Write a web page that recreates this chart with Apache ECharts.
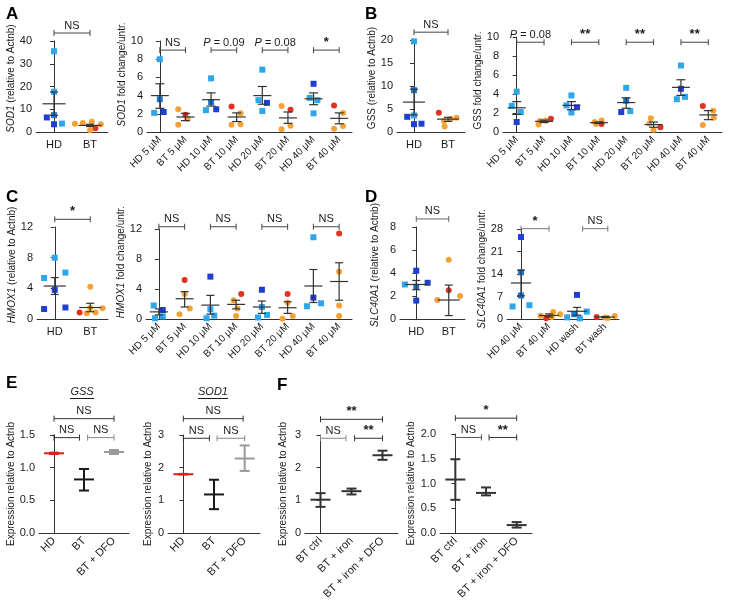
<!DOCTYPE html>
<html><head><meta charset="utf-8">
<script src="https://cdn.jsdelivr.net/npm/echarts@6/dist/echarts.min.js"></script>
<style>html,body{margin:0;padding:0;background:#fff}#c{width:739px;height:610px}</style>
</head><body><div id="c"></div>
<script>
// ---------- categories ----------
const catsHDBT = ['HD', 'BT'];
const catsDose = ['HD 5 μM','BT 5 μM','HD 10 μM','BT 10 μM','HD 20 μM','BT 20 μM','HD 40 μM','BT 40 μM'];
const catsWash = ['HD 40 μM','BT 40 μM','HD wash','BT wash'];
const catsDFO = ['HD', 'BT', 'BT + DFO'];
const catsIron = ['BT ctrl', 'BT + iron', 'BT + iron + DFO'];

// ---------- y axis ranges [min, max, interval] ----------
const yA1 = [0, 40, 10], yA2 = [0, 10, 2], yB1 = [0, 20, 5], yB2 = [0, 10, 2];
const yC1 = [0, 12, 4], yC2 = [0, 12, 4], yD1 = [0, 8, 2], yD2 = [0, 28, 7];
const yE1 = [0, 1.5, 0.5], yE2 = [0, 3, 1], yF1 = [0, 3, 1], yF2 = [0, 2, 0.5];

// ---------- points: [category index, jitter, value, colour key] ----------
const pointsA1 = [
  [0,0,35.5,'L'],[0,0,17.7,'L'],[0,0,7.4,'M'],[0,-0.2,6.4,'D'],[0,0,3.4,'D'],[0,0.22,3.7,'L'],
  [1,-0.42,3.6,'O'],[1,-0.2,4.0,'O'],[1,0.05,4.5,'O'],[1,0.3,3.4,'O'],[1,0.15,1.6,'R'],[1,0.0,0.8,'O']
];
const pointsA2 = [
  [0,0,8.0,'L'],[0,0,3.6,'M'],[0,-0.22,2.1,'L'],[0,0.15,2.2,'D'],
  [1,-0.28,2.5,'O'],[1,0,1.9,'R'],[1,0.08,1.45,'O'],[1,-0.28,0.8,'O'],
  [2,0,5.9,'L'],[2,0,3.3,'M'],[2,-0.2,2.4,'L'],[2,0.2,2.5,'D'],
  [3,-0.2,2.8,'R'],[3,0.15,2.05,'O'],[3,-0.2,0.8,'O'],[3,0.15,0.85,'O'],
  [4,0,6.85,'L'],[4,-0.15,3.5,'L'],[4,0.18,3.2,'D'],[4,0,2.3,'L'],
  [5,-0.25,2.85,'O'],[5,0.1,2.45,'R'],[5,0.1,0.7,'O'],[5,-0.25,0.3,'O'],
  [6,0,5.3,'D'],[6,-0.15,3.75,'L'],[6,0.15,3.5,'L'],[6,0,2.05,'L'],
  [7,-0.2,2.9,'R'],[7,0.15,2.1,'O'],[7,0.15,0.65,'O'],[7,-0.2,0.35,'O']
];
const pointsB1 = [
  [0,0,19.7,'L'],[0,0,9.1,'M'],[0,0,3.6,'L'],[0,-0.2,3.3,'D'],[0,0,1.7,'D'],[0,0.22,1.8,'D'],
  [1,-0.27,4.2,'R'],[1,0.25,3.1,'O'],[1,0.08,2.8,'O'],[1,-0.12,2.4,'O'],[1,-0.1,1.2,'O']
];
const pointsB2 = [
  [0,0,4.25,'L'],[0,-0.18,2.75,'L'],[0,0.15,2.1,'L'],[0,0,1.05,'D'],
  [1,0.25,1.4,'R'],[1,0.05,1.2,'O'],[1,-0.15,1.15,'O'],[1,-0.2,0.8,'O'],
  [2,0,3.85,'L'],[2,-0.18,2.8,'L'],[2,0.2,2.6,'D'],[2,0,2.05,'L'],
  [3,0.1,1.2,'O'],[3,-0.15,1.05,'O'],[3,0.1,0.85,'R'],[3,-0.1,0.85,'O'],
  [4,0,4.65,'L'],[4,0,3.3,'M'],[4,-0.18,2.1,'D'],[4,0.15,2.2,'L'],
  [5,-0.1,1.45,'O'],[5,-0.15,0.9,'O'],[5,0.25,0.5,'R'],[5,0,0.25,'O'],
  [6,0,7.0,'L'],[6,0,4.55,'D'],[6,-0.15,3.45,'L'],[6,0.15,3.7,'L'],
  [7,-0.2,2.75,'R'],[7,0.18,2.25,'O'],[7,0.2,1.5,'O'],[7,-0.2,0.75,'O']
];
const pointsC1 = [
  [0,0,8.0,'L'],[0,0.3,6.05,'L'],[0,-0.3,5.35,'L'],[0,0,3.8,'D'],[0,-0.3,1.3,'D'],[0,0.3,1.5,'D'],
  [1,0,4.2,'O'],[1,0,1.45,'O'],[1,-0.3,0.85,'R'],[1,-0.1,0.75,'O'],[1,0.15,0.85,'O'],[1,0.35,1.4,'O']
];
const pointsC2 = [
  [0,-0.2,1.8,'L'],[0,0.15,1.2,'D'],[0,-0.15,0.1,'L'],[0,0.15,0.35,'L'],
  [1,0,5.2,'R'],[1,0,3.35,'O'],[1,0.2,1.4,'O'],[1,-0.2,0.65,'O'],
  [2,0,5.65,'D'],[2,0,1.3,'L'],[2,-0.15,0.1,'L'],[2,0.15,0.45,'L'],
  [3,0.2,3.35,'R'],[3,-0.1,2.5,'O'],[3,0.05,1.4,'O'],[3,0,0.4,'O'],
  [4,0,3.9,'D'],[4,0,1.6,'L'],[4,-0.15,0.2,'L'],[4,0.2,0.55,'L'],
  [5,0,3.35,'R'],[5,0,2.2,'O'],[5,0.2,0.4,'O'],[5,-0.2,0.05,'O'],
  [6,0,10.9,'L'],[6,0,2.85,'D'],[6,0.3,2.1,'L'],[6,-0.25,1.7,'L'],
  [7,0,11.4,'R'],[7,0,6.3,'O'],[7,0,1.8,'O'],[7,0,0.4,'O']
];
const pointsD1 = [
  [0,0,4.2,'D'],[0,-0.35,3.0,'L'],[0,0,2.8,'M'],[0,0.35,3.15,'D'],[0,0,1.6,'D'],
  [1,0,5.15,'O'],[1,0,2.5,'R'],[1,0.35,2.0,'O'],[1,-0.35,1.65,'O']
];
const pointsD2 = [
  [0,0,25.5,'D'],[0,0,14.5,'M'],[0,0,7.3,'M'],[0,-0.3,3.9,'L'],[0,0.3,4.3,'L'],
  [1,0.15,2.2,'O'],[1,0.4,1.5,'O'],[1,-0.3,1.0,'O'],[1,-0.1,0.2,'R'],[1,0.1,0.6,'O'],
  [2,0,7.5,'D'],[2,0.35,2.3,'L'],[2,-0.1,1.5,'M'],[2,-0.35,0.5,'L'],[2,0.1,0.2,'L'],
  [3,-0.3,0.6,'R'],[3,0,0.5,'O'],[3,0.35,0.9,'O'],[3,0.1,0.3,'O']
];

// ---------- mean and error bars: [category index, mean, low, high] ----------
const statsA1 = [[0,12.4,7.3,17.6],[1,2.9,2.4,3.4]];
const statsA2 = [[0,4.0,2.6,5.3],[1,1.65,1.25,2.05],[2,3.55,2.85,4.3],[3,1.65,1.15,2.1],[4,4.0,3.05,5.0],[5,1.55,0.95,2.2],[6,3.65,3.0,4.3],[7,1.5,0.9,2.1]];
const statsB1 = [[0,6.5,3.7,9.3],[1,2.8,2.3,3.2]];
const statsB2 = [[0,2.55,1.85,3.2],[1,1.12,1.0,1.25],[2,2.8,2.35,3.2],[3,0.98,0.9,1.05],[4,3.1,2.5,3.6],[5,0.78,0.5,1.05],[6,4.7,3.85,5.5],[7,1.8,1.3,2.25]];
const statsC1 = [[0,4.3,3.2,5.4],[1,1.5,0.95,2.05]];
const statsC2 = [[0,0.95,0.55,1.35],[1,2.7,1.6,3.65],[2,1.85,0.65,3.15],[3,1.95,1.35,2.5],[4,1.6,0.75,2.4],[5,1.5,0.75,2.3],[6,4.4,2.2,6.6],[7,5.0,2.5,7.5]];
const statsD1 = [[0,3.0,2.55,3.35],[1,1.65,0.3,2.95]];
const statsD2 = [[0,11.2,7.2,15.2],[1,1.1,0.6,1.6],[2,2.4,1.2,3.6],[3,0.6,0.45,0.75]];
const statsE1 = [[0,1.22,1.21,1.23],[1,0.82,0.65,0.98],[2,1.24,1.21,1.27]];
const statsE2 = [[0,1.8,1.79,1.81],[1,1.18,0.73,1.63],[2,2.28,1.9,2.68]];
const statsF1 = [[0,1.02,0.8,1.22],[1,1.28,1.18,1.36],[2,2.38,2.24,2.52]];
const statsF2 = [[0,1.08,0.67,1.49],[1,0.81,0.76,0.92],[2,0.16,0.11,0.22]];

// ---------- significance brackets: [from, to, level, label] ----------
const bracketsA1 = [[0,1,43.5,'NS']];
const bracketsA2 = [[0,1,9.0,'NS'],[2,3,9.0,'{i|P} = 0.09'],[4,5,9.0,'{i|P} = 0.08'],[6,7,9.0,'*']];
const bracketsB1 = [[0,1,21.7,'NS']];
const bracketsB2 = [[0,1,9.45,'{i|P} = 0.08'],[2,3,9.45,'**'],[4,5,9.45,'**'],[6,7,9.45,'**']];
const bracketsC1 = [[0,1,13.0,'*']];
const bracketsC2 = [[0,1,12.3,'NS'],[2,3,12.3,'NS'],[4,5,12.3,'NS'],[6,7,12.3,'NS']];
const bracketsD1 = [[0,1,8.7,'NS']];
const bracketsD2 = [[0,1,28.1,'*'],[2.2,3.1,28.1,'NS']];
const bracketsE1 = [[0,2,1.75,'NS'],[0,0.85,1.46,'NS'],[1.12,2,1.46,'NS']];
const bracketsE2 = [[0,1.95,3.5,'NS'],[0,0.85,2.9,'NS'],[1.1,2,2.9,'NS']];
const bracketsF1 = [[0,2,3.48,'**'],[0,0.82,2.9,'NS'],[1.1,2,2.9,'**']];
const bracketsF2 = [[0,2,2.32,'*'],[0,0.85,1.93,'NS'],[1.1,2,1.93,'**']];

// ---------- styling ----------
const FAM = '"Liberation Sans", Arial, Helvetica, sans-serif';
const COLORS = {L:'#2ea6ea', M:'#1b78d6', D:'#1f3fd0', O:'#f4a236', R:'#e3321f'};
const colE = ['#e0201b', '#1a1a1a', '#9a9a9a'];
const colF = ['#333', '#333', '#333'];

const panels = [
  {grid:[36,41,72,91],  cats:catsHDBT, rot:0,  xfs:11, y:yA1, pts:pointsA1, stats:statsA1, br:bracketsA1, name:'{i|SOD1} (relative to Actnb)', gap:19, shift:16, mh:11.5, ch:4, lw:1.2},
  {grid:[147,41,205,91],cats:catsDose, rot:45, xfs:10, y:yA2, pts:pointsA2, stats:statsA2, br:bracketsA2, name:'{i|SOD1} fold change/untr.', gap:15, shift:24, mh:9, ch:4.5, lw:1.2},
  {grid:[397,40,68,92], cats:catsHDBT, rot:0,  xfs:11, y:yB1, pts:pointsB1, stats:statsB1, br:bracketsB1, name:'GSS (relative to Actnb)', gap:17, shift:16, mh:11, ch:4, lw:1.2},
  {grid:[503,37,219,95],cats:catsDose, rot:45, xfs:10, y:yB2, pts:pointsB2, stats:statsB2, br:bracketsB2, name:'GSS fold change/untr.', gap:13, shift:8, mh:9, ch:4.5, lw:1.2},
  {grid:[37,227,71,92], cats:catsHDBT, rot:0,  xfs:11, y:yC1, pts:pointsC1, stats:statsC1, br:bracketsC1, name:'{i|HMOX1} (relative to Actnb)', gap:20, shift:16, mh:11, ch:4, lw:1.2},
  {grid:[146,229,206,90],cats:catsDose,rot:45, xfs:10, y:yC2, pts:pointsC2, stats:statsC2, br:bracketsC2, name:'{i|HMOX1} fold change/untr.', gap:13, shift:24, mh:9, ch:4, lw:1.2},
  {grid:[400,227,65,92], cats:catsHDBT,rot:0,  xfs:11, y:yD1, pts:pointsD1, stats:statsD1, br:bracketsD1, name:'{i|SLC40A1} (relative to Actnb)', gap:20, shift:16, mh:11, ch:4, lw:1.2, brc:'#666'},
  {grid:[507,229,112,90],cats:catsWash,rot:45, xfs:10, y:yD2, pts:pointsD2, stats:statsD2, br:bracketsD2, name:'{i|SLC40A1} fold change/untr.', gap:17, shift:10, mh:10, ch:4, lw:1.2, brc:'#777'},
  {grid:[39,435,90,98],  cats:catsDFO, rot:45, xfs:11, y:yE1, stats:statsE1, br:bracketsE1, name:'Expression relative to Actnb', gap:22, shift:0, mh:10, ch:5, lw:2, cols:colE, dec:1, brcs:['#333','#333','#888']},
  {grid:[168,435,92,98], cats:catsDFO, rot:45, xfs:11, y:yE2, stats:statsE2, br:bracketsE2, name:'Expression relative to Actnb', gap:15, shift:0, mh:10, ch:5, lw:2, cols:colE, brcs:['#333','#333','#888']},
  {grid:[305,435,93,98], cats:catsIron,rot:45, xfs:11, y:yF1, stats:statsF1, br:bracketsF1, name:'Expression relative to Actnb', gap:17, shift:0, mh:10, ch:5, lw:2, cols:colF, brcs:['#333','#888','#333']},
  {grid:[440,434,92,99], cats:catsIron,rot:45, xfs:11, y:yF2, stats:statsF2, br:bracketsF2, name:'Expression relative to Actnb', gap:24, shift:0, mh:10, ch:5, lw:2, cols:colF, dec:1, brcs:['#333','#555','#333']}
];

function errRender(p) {
  return function (params, api) {
    const x = api.value(0);
    const pm = api.coord([x, api.value(1)]);
    const pl = api.coord([x, api.value(2)]);
    const ph = api.coord([x, api.value(3)]);
    const c = p.cols ? p.cols[params.dataIndex] : '#333';
    const st = {stroke: c, lineWidth: p.lw};
    return {type: 'group', children: [
      {type:'line', shape:{x1:pl[0], y1:pl[1], x2:ph[0], y2:ph[1]}, style:st},
      {type:'line', shape:{x1:pl[0]-p.ch, y1:pl[1], x2:pl[0]+p.ch, y2:pl[1]}, style:st},
      {type:'line', shape:{x1:ph[0]-p.ch, y1:ph[1], x2:ph[0]+p.ch, y2:ph[1]}, style:st},
      {type:'line', shape:{x1:pm[0]-p.mh, y1:pm[1], x2:pm[0]+p.mh, y2:pm[1]}, style:st}
    ]};
  };
}

function brRender(p) {
  return function (params, api) {
    const b = p.br[params.dataIndex];
    const a1 = api.coord([api.value(0), api.value(2)]);
    const a2 = api.coord([api.value(1), api.value(2)]);
    const c = p.brcs ? p.brcs[params.dataIndex] : (p.brc || '#444');
    const st = {stroke: c, lineWidth: 1};
    const lab = b[3];
    const star = /^\*+$/.test(lab);
    return {type:'group', children:[
      {type:'line', shape:{x1:a1[0], y1:a1[1], x2:a2[0], y2:a2[1]}, style:st},
      {type:'line', shape:{x1:a1[0], y1:a1[1]-3, x2:a1[0], y2:a1[1]+3}, style:st},
      {type:'line', shape:{x1:a2[0], y1:a2[1]-3, x2:a2[0], y2:a2[1]+3}, style:st},
      {type:'text', x:(a1[0]+a2[0])/2, y:a1[1] - (star ? 1 : 2), style:{
        text: lab, align:'center', verticalAlign:'bottom',
        fontSize: star ? 13 : 11, fontWeight: star ? 'bold' : 'normal', fontFamily: FAM, fill:'#1a1a1a',
        rich: {i: {fontStyle:'italic', fontSize:11, fontFamily:FAM, fill:'#1a1a1a'}}
      }}
    ]};
  };
}

const grids = [], xAxes = [], yAxes = [], series = [];
panels.forEach((p, i) => {
  grids.push({left:p.grid[0], top:p.grid[1], width:p.grid[2], height:p.grid[3], containLabel:false});
  xAxes.push({
    type:'category', gridIndex:i, data:p.cats,
    axisLine:{lineStyle:{color:'#333', width:1}},
    axisTick:{alignWithLabel:true, length:4, lineStyle:{color:'#333'}},
    axisLabel:{rotate:p.rot, fontSize:p.xfs, color:'#1a1a1a', fontFamily:FAM, margin:p.rot ? 6 : 7, interval:0},
    splitLine:{show:false}
  });
  xAxes.push({type:'value', gridIndex:i, min:-0.5, max:p.cats.length - 0.5, show:false});
  yAxes.push({
    type:'value', gridIndex:i, min:p.y[0], max:p.y[1], interval:p.y[2],
    axisLine:{show:true, lineStyle:{color:'#333', width:1}},
    axisTick:{show:true, length:4, lineStyle:{color:'#333'}},
    axisLabel:{fontSize:11, color:'#1a1a1a', fontFamily:FAM, margin:4,
      formatter: p.dec ? (v => v.toFixed(p.dec)) : (v => String(v))},
    splitLine:{show:false},
    name:p.name, nameLocation:'middle', nameGap:p.gap,
    nameTextStyle:{fontSize:10, color:'#1a1a1a', fontFamily:FAM, padding:[0,0,0,p.shift],
      rich:{i:{fontStyle:'italic', fontSize:10, color:'#1a1a1a', fontFamily:FAM}}}
  });
  if (p.pts) {
    series.push({
      type:'scatter', xAxisIndex:2*i+1, yAxisIndex:i, z:2,
      data: p.pts.map(d => {
        const blue = d[3] === 'L' || d[3] === 'M' || d[3] === 'D';
        return {value:[d[0] + d[1], d[2]], symbol: blue ? 'rect' : 'circle',
          symbolSize: 6, itemStyle:{color: COLORS[d[3]], opacity:1}};
      })
    });
  }
  series.push({type:'custom', xAxisIndex:2*i+1, yAxisIndex:i, z:3, renderItem:errRender(p),
    encode:{x:0, y:[1,2,3]}, data:p.stats});
  series.push({type:'custom', xAxisIndex:2*i+1, yAxisIndex:i, z:3, clip:false, renderItem:brRender(p),
    encode:{x:[0,1], y:2}, data:p.br.map(b => [b[0], b[1], b[2]])});
});

const letter = (t, x, y) => ({type:'text', x, y, style:{text:t, fontSize:17, fontWeight:'bold', fontFamily:FAM, fill:'#000', align:'left', verticalAlign:'top'}});
const graphic = [
  letter('A', 6, 6), letter('B', 365, 6), letter('C', 6, 189), letter('D', 365, 189),
  letter('E', 6, 375), letter('F', 277, 377),
  {type:'text', x:82, y:392, style:{text:'GSS', fontSize:11, fontStyle:'italic', fontFamily:FAM, fill:'#1a1a1a', align:'center', verticalAlign:'middle'}},
  {type:'line', shape:{x1:70, y1:398.5, x2:94, y2:398.5}, style:{stroke:'#1a1a1a', lineWidth:1}},
  {type:'text', x:213, y:392, style:{text:'SOD1', fontSize:11, fontStyle:'italic', fontFamily:FAM, fill:'#1a1a1a', align:'center', verticalAlign:'middle'}},
  {type:'line', shape:{x1:198, y1:398.5, x2:228, y2:398.5}, style:{stroke:'#1a1a1a', lineWidth:1}}
];

const chart = echarts.init(document.getElementById('c'), null, {renderer:'canvas'});
chart.setOption({
  animation:false, backgroundColor:'#fff',
  textStyle:{fontFamily:FAM},
  grid:grids, xAxis:xAxes, yAxis:yAxes, series:series, graphic:graphic
});
</script></body></html>
